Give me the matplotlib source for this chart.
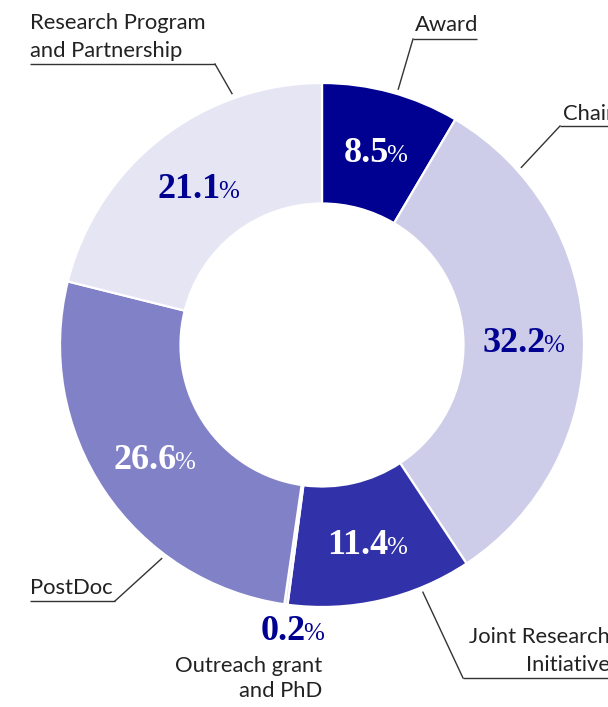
import matplotlib
matplotlib.use("Agg")
import matplotlib.pyplot as plt
import numpy as np

# ---------------- data ----------------
categories = ["Award", "Chair", "Joint Research Initiative",
              "Outreach grant and PhD", "PostDoc",
              "Research Program and Partnership"]
shares = [8.5, 32.2, 11.4, 0.2, 26.6, 21.1]
share_text = ["8.5", "32.2", "11.4", "0.2", "26.6", "21.1"]
label_lines = [["Award"], ["Chair"], ["Joint Research", "Initiative"],
               ["Outreach grant", "and PhD"], ["PostDoc"],
               ["Research Program", "and Partnership"]]

# ---------------- style ----------------
colors = ["#000091", "#CECDE9", "#3131A9", "#E6E5F4", "#8181C7", "#E6E5F4"]
pct_colors = ["white", "#000091", "white", "#000091", "white", "#000091"]
TEXT_C = "#222222"
LINE_C = "#333333"
SANS = ["Lato", "DejaVu Sans"]
SERIF = ["Liberation Serif", "DejaVu Serif"]
SANS_FS = 15.8
NUM_FS = 26
PCT_FS = 18

W, H = 608, 707
CX, CY = 322, 345
R_OUT, R_IN = 262, 141.5
R_LEAD = 267

fig = plt.figure(figsize=(W / 100, H / 100), dpi=100)
ax = fig.add_axes([0, 0, 1, 1])


def P(x, y):
    return x, H - y


wedges, _ = ax.pie(shares, radius=R_OUT, center=P(CX, CY), startangle=90,
                   counterclock=False, colors=colors,
                   wedgeprops=dict(width=R_OUT - R_IN, edgecolor="white",
                                   linewidth=1.6))
ax.set_xlim(0, W)
ax.set_ylim(0, H)
ax.set_aspect("equal")
ax.axis("off")

renderer = fig.canvas.get_renderer()


def pct_label(x, y_base, num, color, ha="center", gap=-2.5):
    t1 = ax.text(0, 0, num, family=SERIF, fontweight="bold", fontsize=NUM_FS,
                 color=color, va="baseline", ha="left")
    t2 = ax.text(0, 0, "%", family=SERIF, fontsize=PCT_FS,
                 color=color, va="baseline", ha="left")
    w1 = t1.get_window_extent(renderer).width
    w2 = t2.get_window_extent(renderer).width
    total = w1 + gap + w2
    x0 = x - total / 2 if ha == "center" else x - total
    t1.set_position(P(x0, y_base))
    t2.set_position(P(x0 + w1 + gap, y_base))


# percentage labels inside the ring
R_MID = (R_OUT + R_IN) / 2
for i, w in enumerate(wedges):
    if i == 3:
        continue
    ang = np.deg2rad((w.theta1 + w.theta2) / 2)
    cx = w.center[0] + R_MID * np.cos(ang)
    cy = w.center[1] + R_MID * np.sin(ang)
    px, py = cx, H - cy
    pct_label(px, py + 12, share_text[i], pct_colors[i])

# outreach (tiny slice) label outside
pct_label(324, 640, share_text[3], pct_colors[3], ha="right")
for j, line in enumerate(label_lines[3]):
    ax.text(*P(322, 672 + 25 * j), line, family=SANS, fontsize=SANS_FS,
            color=TEXT_C, ha="right", va="baseline")

# ---------------- callout layout (pixels) ----------------
# idx: (text x, first baseline, align, underline x0, x1, underline y,
#       leader start x, leader angle clockwise from top in degrees)
callouts = {
    5: (30, 29, "left", 30, 215, 64, 215, 340.3),
    0: (415, 31, "left", 413, 477, 39, 413, 16.6),
    1: (563, 120, "left", 560, 612, 126, 560, 48.3),
    2: (469, 643, "jri", 463, 612, 678, 463, 157.8),
    4: (30, 594, "left", 30, 115, 601, 115, 216.9),
}
LINE_GAP = 28
for idx, (tx, ty, al, ux0, ux1, uy, lx, la) in callouts.items():
    lines = label_lines[idx]
    if al == "jri":
        t = ax.text(*P(tx, ty), lines[0], family=SANS, fontsize=SANS_FS,
                    color=TEXT_C, ha="left", va="baseline")
        right = t.get_window_extent(renderer).x1
        for j, line in enumerate(lines[1:], start=1):
            ax.text(*P(right, ty + LINE_GAP * j), line, family=SANS,
                    fontsize=SANS_FS, color=TEXT_C, ha="right", va="baseline")
    else:
        for j, line in enumerate(lines):
            ax.text(*P(tx, ty + LINE_GAP * j), line, family=SANS,
                    fontsize=SANS_FS, color=TEXT_C, ha="left", va="baseline")
    ax.plot([ux0, ux1], [H - uy, H - uy], color=LINE_C, lw=1.0,
            solid_capstyle="butt")
    a = np.deg2rad(la)
    ex = CX + R_LEAD * np.sin(a)
    ey = CY - R_LEAD * np.cos(a)
    ax.plot([lx, ex], [H - uy, H - ey], color=LINE_C, lw=1.0)

fig.savefig("out.png", dpi=100, facecolor="white")
